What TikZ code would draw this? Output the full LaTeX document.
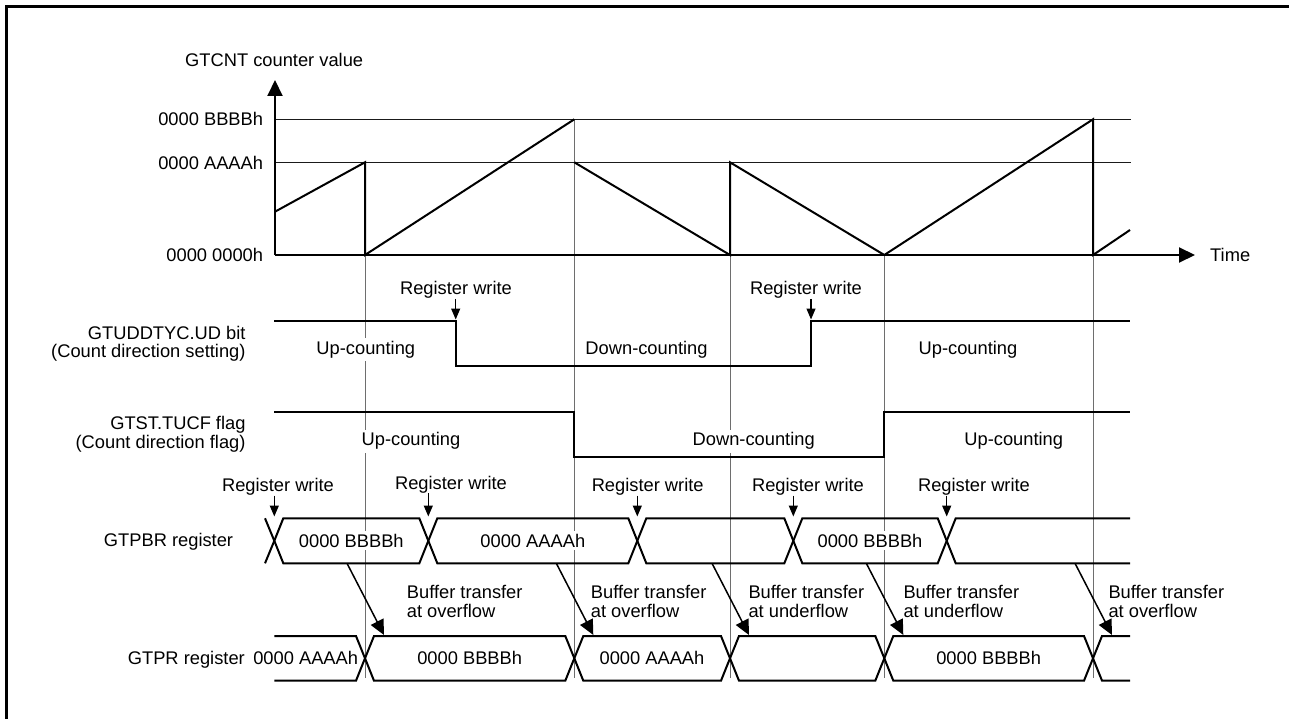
\documentclass[tikz,border=0pt]{standalone}
\usepackage{fontspec}
\setmainfont{Liberation Sans}
\usetikzlibrary{arrows.meta,calc}
\definecolor{ink}{HTML}{000000}
\definecolor{guide}{HTML}{6E6E6E}
\definecolor{refline}{HTML}{1A1A1A}
\tikzset{
  txt/.style={font=\fontsize{18.3}{18.4}\selectfont,inner sep=0pt,text=ink},
  val/.style={txt,fill=white,inner sep=3pt},
  sig/.style={draw=ink,line width=2pt},
  bus/.style={draw=ink,line width=2pt},
  guideline/.style={draw=guide,line width=1pt},
  levelline/.style={draw=refline,line width=1pt},
  axisflow/.style={-{Triangle[length=16pt,width=15pt]},line width=2pt,draw=ink},
  writeflow/.style={-{Triangle[length=11pt,width=9pt]},line width=1.3pt,draw=ink},
  xferflow/.style={-{Triangle[length=15pt,width=14pt]},line width=1.5pt,draw=ink}
}
\begin{document}
\begin{tikzpicture}[x=1pt,y=-1pt]
  \useasboundingbox (0,0) rectangle (1289,719);
  \draw[line width=3.3pt] (6.7,719) -- (6.7,6.7) -- (1289,6.7);
  % event guides
  \foreach \t/\ty in {365/162.3,574.3/119.3,730/162.3,884.3/255,1093/119.3}
    \draw[guideline] (\t,\ty) -- (\t,678);

  % GTCNT counter
  \draw[levelline] (275,119.3) -- (1131,119.3);
  \draw[levelline] (275,162.3) -- (1131,162.3);
  \coordinate (orig) at (275,255);
  \coordinate (yend) at (275,80);
  \coordinate (xend) at (1195,255);
  \draw[axisflow] (orig) -- (yend);
  \draw[axisflow] (orig) -- (xend);
  \draw[sig] (275,211.7) -- (365,162.3) -- (365,255) -- (574.3,119.3);
  \draw[sig] (574.3,162.3) -- (730,255) -- (730,162.3) -- (884.3,255) -- (1093,119.3) -- (1093,255) -- (1130,230);
  \node[txt,anchor=base west] (cntlab) at (185,66.5) {GTCNT counter value};
  \node[txt,anchor=base east] (lvlB) at (263.3,125.8) {0000 BBBBh};
  \node[txt,anchor=base east] (lvlA) at (263.3,169.2) {0000 AAAAh};
  \node[txt,anchor=base east] (lvl0) at (263.3,261.5) {0000 0000h};
  \node[txt,anchor=base west] (timelab) at (1210,261.5) {Time};

  % GTUDDTYC.UD and GTST.TUCF
  \draw[sig] (274.3,320.7) -- (455.7,320.7) -- (455.7,365.7) -- (811,365.7) -- (811,320.7) -- (1130,320.7);
  \draw[sig] (274.3,411.7) -- (574.3,411.7) -- (574.3,456.7) -- (884.3,456.7) -- (884.3,411.7) -- (1130,411.7);
  \node[txt,anchor=north east,align=right] (udlab) at (245.7,325.9) {GTUDDTYC.UD bit\\(Count direction setting)};
  \node[txt,anchor=north east,align=right] (tucflab) at (245.7,416.5) {GTST.TUCF flag\\(Count direction flag)};
  \node[val,anchor=base] (udup1) at (365.8,354.2) {Up-counting};
  \node[val,anchor=base] (uddn) at (646.5,354.2) {Down-counting};
  \node[val,anchor=base] (udup2) at (968,354.2) {Up-counting};
  \node[val,anchor=base] (tfup1) at (411,445.8) {Up-counting};
  \node[val,anchor=base] (tfdn) at (753.7,445.8) {Down-counting};
  \node[val,anchor=base] (tfup2) at (1013.7,445.8) {Up-counting};
  \foreach \i/\tx/\ax in {1/456/455.7,2/806/811} {
    \node[txt,anchor=base] (rwU\i) at (\tx,294.8) {Register write};
    \coordinate (wU\i) at (\ax,319.5);
    \draw[writeflow] (rwU\i.south -| wU\i) -- (wU\i);
  }

  % GTPBR bus
  \draw[bus] (265,518.3) -- (274.3,540.8) -- (265,563.3);
  \foreach \a/\b in {274.3/428.3,428.3/637.3,637.3/793.3,793.3/946.7}
    \draw[bus] (\a,540.8) -- (\a+9,518.3) -- (\b-9,518.3) -- (\b,540.8) -- (\b-9,563.3) -- (\a+9,563.3) -- cycle;
  \draw[bus] (1130,518.3) -- (955.7,518.3) -- (946.7,540.8) -- (955.7,563.3) -- (1130,563.3);
  \node[txt,anchor=base east] (pbrlab) at (233.3,546.5) {GTPBR register};
  \node[val,anchor=base] (pbr1) at (351.3,547.3) {0000 BBBBh};
  \node[val,anchor=base] (pbr2) at (532.8,547.3) {0000 AAAAh};
  \node[val,anchor=base] (pbr3) at (870,547.3) {0000 BBBBh};
  \foreach \i/\tx/\ax/\by in {1/278/274.3/491.5,2/451/428.3/489.2,3/647.7/637.3/491.5,4/808/793.3/491.5,5/974/946.7/491.5} {
    \node[txt,anchor=base] (rwB\i) at (\tx,\by) {Register write};
    \coordinate (wB\i) at (\ax,516.5);
    \draw[writeflow] (rwB\i.south -| wB\i) -- (wB\i);
  }

  % GTPR bus
  \draw[bus] (274.3,636) -- (356,636) -- (365,658.3) -- (356,680.7) -- (274.3,680.7);
  \foreach \a/\b in {365/574.3,574.3/730,730/884.3,884.3/1093}
    \draw[bus] (\a,658.3) -- (\a+9,636) -- (\b-9,636) -- (\b,658.3) -- (\b-9,680.7) -- (\a+9,680.7) -- cycle;
  \draw[bus] (1130,636) -- (1102,636) -- (1093,658.3) -- (1102,680.7) -- (1130,680.7);
  \node[txt,anchor=base east] (prlab) at (245,664.8) {GTPR register};
  \node[txt,anchor=base east] (pr0) at (358.3,664.8) {0000 AAAAh};
  \node[val,anchor=base] (pr1) at (469.7,664.8) {0000 BBBBh};
  \node[val,anchor=base] (pr2) at (652,664.8) {0000 AAAAh};
  \node[val,anchor=base] (pr3) at (988.7,664.8) {0000 BBBBh};

  % buffer transfers
  \foreach \t [count=\i] in {365,574.3,730,884.3,1093} {
    \coordinate (bs\i) at (\t-18,563.3);
    \coordinate (be\i) at (\t+19,635);
    \draw[xferflow] (bs\i) -- (be\i);
  }
  \node[txt,anchor=north west,align=left] (bt1) at (406.7,585.4) {Buffer transfer\\at overflow};
  \node[txt,anchor=north west,align=left] (bt2) at (590.7,585.4) {Buffer transfer\\at overflow};
  \node[txt,anchor=north west,align=left] (bt3) at (748.3,585.4) {Buffer transfer\\at underflow};
  \node[txt,anchor=north west,align=left] (bt4) at (903.3,585.4) {Buffer transfer\\at underflow};
  \node[txt,anchor=north west,align=left] (bt5) at (1108.3,585.4) {Buffer transfer\\at overflow};
\end{tikzpicture}
\end{document}
